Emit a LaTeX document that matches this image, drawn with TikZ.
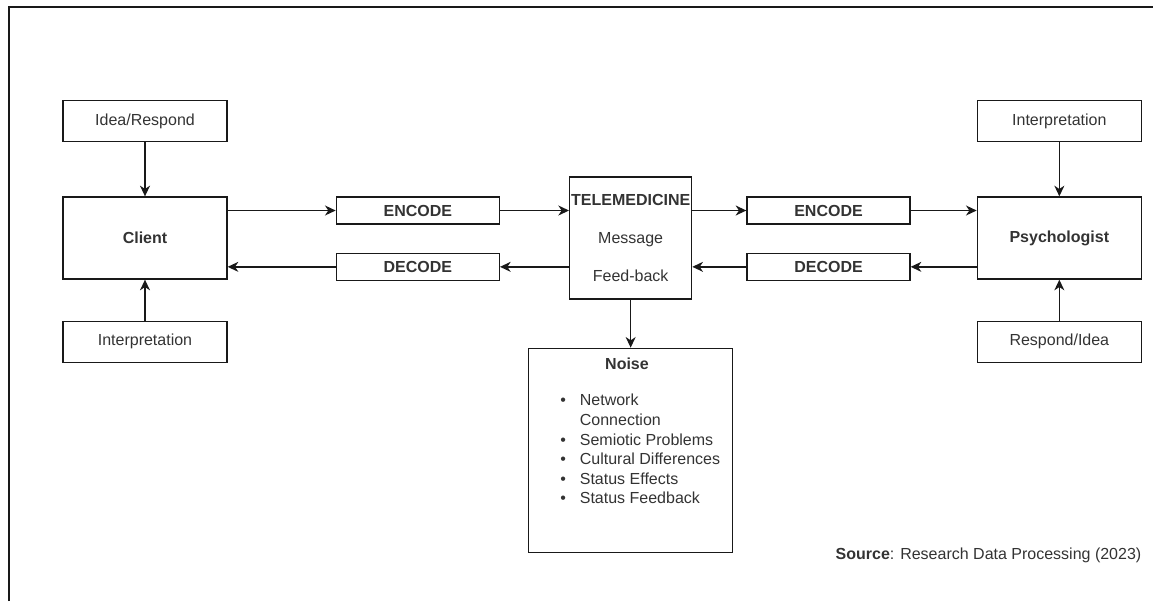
\documentclass[tikz,border=0pt]{standalone}
\usepackage{fontspec}
\setmainfont{Liberation Sans}
\usetikzlibrary{arrows.meta, positioning, calc}

\begin{document}
\begin{tikzpicture}[
    x=0.75pt, y=-0.75pt,
    font=\fontsize{12}{14.5}\selectfont,
    box/.style={rectangle, draw=black!90, line width=1pt, text=black!80,
      minimum width=123pt, minimum height=30.75pt, inner sep=1pt},
    big/.style={box, minimum height=61.5pt, font=\fontsize{12}{14.5}\selectfont\bfseries},
    bar/.style={box, minimum width=122.25pt, minimum height=20.25pt,
      font=\fontsize{12}{14.5}\selectfont\bfseries},
    tele/.style={box, minimum width=91.5pt, minimum height=91.5pt, align=center},
    noisebox/.style={box, minimum width=153pt, minimum height=153pt},
    link/.style={-{Stealth[length=8pt, width=7.5pt, inset=2.5pt]}, line width=1pt, draw=black!90}
  ]
  \useasboundingbox (0,0) rectangle (1153,601);
  \draw[line width=1.2pt, black!90] (9,601) -- (9,7) -- (1153,7);

  % client side
  \node[big] (client) at (145,238) {Client};
  \node[box, above=40.5pt of client] (ideaL) {Idea/Respond};
  \node[box, below=30.75pt of client] (interpL) {Interpretation};
  \node[bar, right=81pt of client.north east, anchor=north west] (encL) {ENCODE};
  \node[bar, below=21pt of encL] (decL) {DECODE};

  % channel
  \node[tele, right=51.75pt of encL.north east, anchor=north west, yshift=15pt] (tele)
    {\textbf{TELEMEDICINE}\\[14pt]Message\\[14pt]Feed-back};
  \node[noisebox, below=36pt of tele] (noise) {};
  \node[text=black!80] (noiseT) at (627,364) {\textbf{Noise}};
  \node[anchor=north west, inner sep=0pt, text=black!80,
    font=\fontsize{12}{14.7}\selectfont] (noiseL) at (560,392)
    {\begin{tabular}{@{}l@{\hspace{10.5pt}}l@{}}
      \textbullet & Network\\
                  & Connection\\
      \textbullet & Semiotic Problems\\
      \textbullet & Cultural Differences\\
      \textbullet & Status Effects\\
      \textbullet & Status Feedback
    \end{tabular}};

  % psychologist side
  \node[bar, right=40.5pt of tele.north east, anchor=north west, yshift=-15pt] (encR) {ENCODE};
  \node[bar, below=21pt of encR] (decR) {DECODE};
  \node[big, right=49.5pt of encR.north east, anchor=north west] (psych) {Psychologist};
  \node[box, above=40.5pt of psych] (interpR) {Interpretation};
  \node[box, below=30.75pt of psych] (respR) {Respond/Idea};

  \draw[link] (ideaL) -- (client);
  \draw[link] (interpL) -- (client);
  \draw[link] (client.east |- encL.west) -- (encL.west);
  \draw[link] (encL.east) -- (tele.west |- encL.east);
  \draw[link] (tele.west |- decL.east) -- (decL.east);
  \draw[link] (decL.west) -- (client.east |- decL.west);
  \draw[link] (tele.east |- encR.west) -- (encR.west);
  \draw[link] (encR.east) -- (psych.west |- encR.east);
  \draw[link] (psych.west |- decR.east) -- (decR.east);
  \draw[link] (decR.west) -- (tele.east |- decR.west);
  \draw[link] (interpR) -- (psych);
  \draw[link] (respR) -- (psych);
  \draw[link] (tele) -- (noise);

  \node[anchor=east, text=black!80] (src) at (1146,555)
    {\textbf{Source}: Research Data Processing (2023)};
\end{tikzpicture}
\end{document}
